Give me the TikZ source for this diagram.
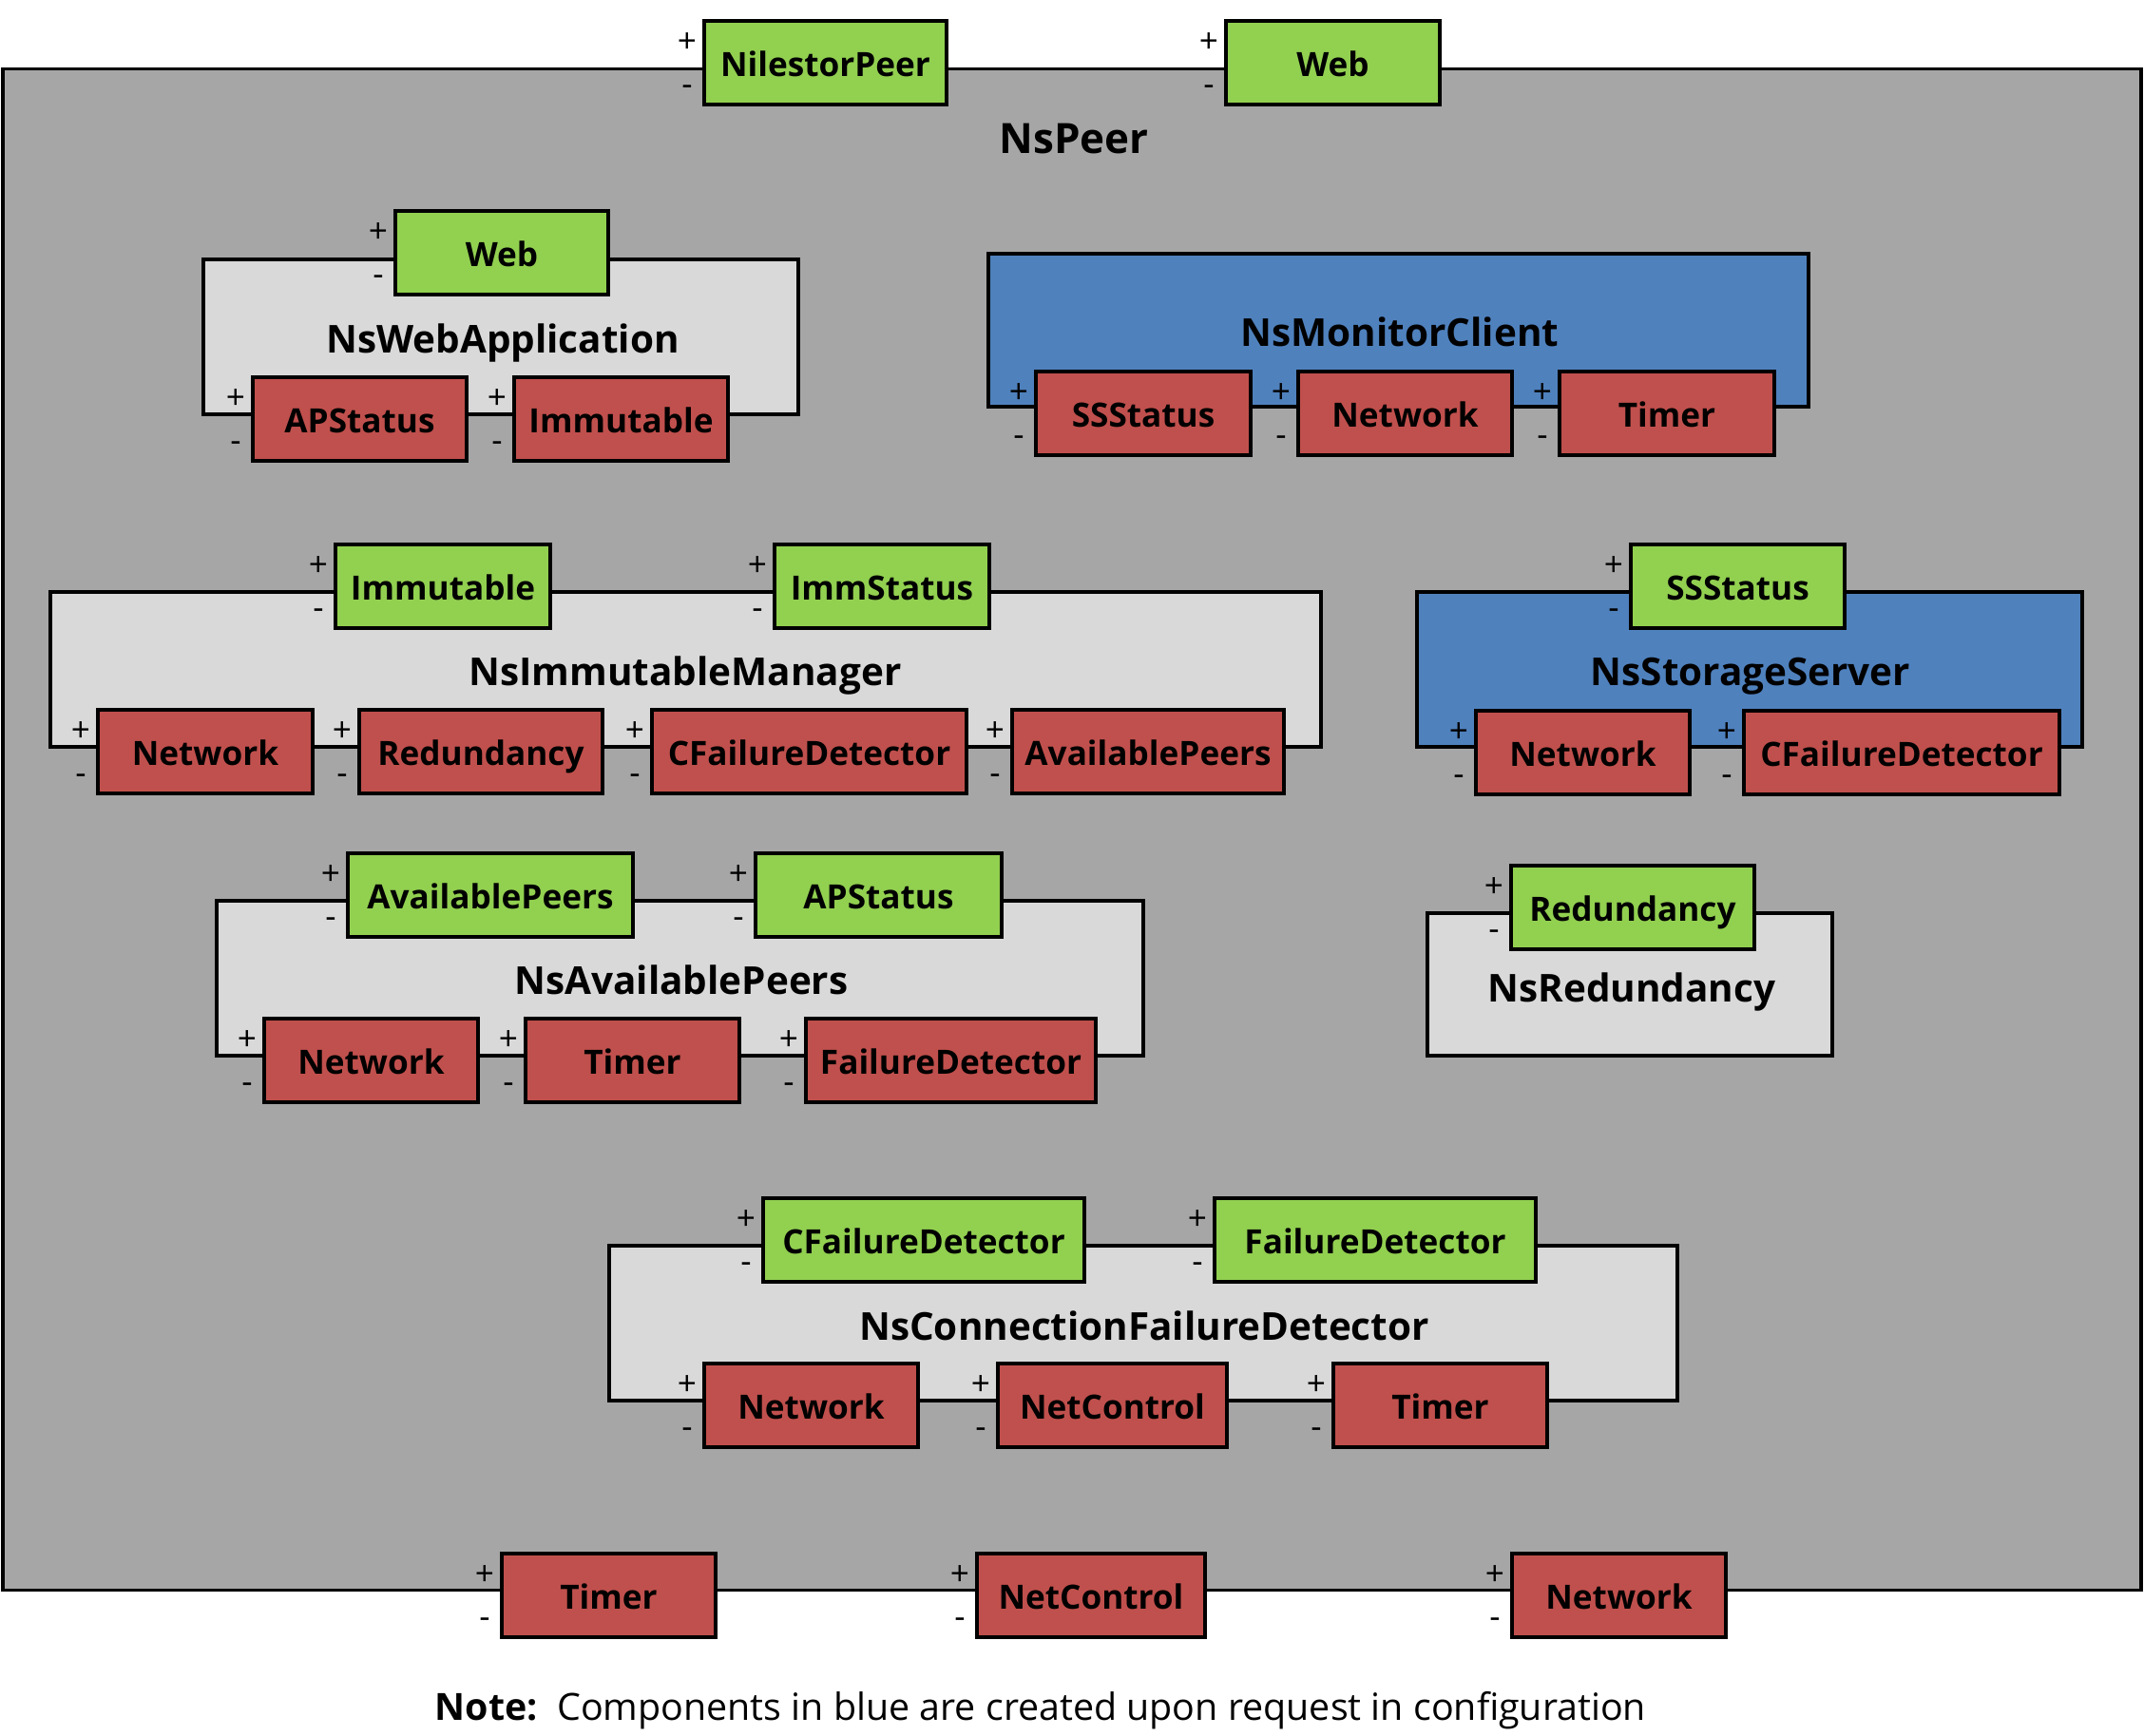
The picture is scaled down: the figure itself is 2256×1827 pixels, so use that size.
\documentclass[tikz,border=0pt]{standalone}
\usepackage{fontspec}
\setmainfont{Open Sans}
\usetikzlibrary{calc}

\definecolor{portgreen}{HTML}{92D050}
\definecolor{portred}{HTML}{C0504D}
\definecolor{compblue}{HTML}{4F81BD}
\definecolor{peergrey}{HTML}{A6A6A6}
\definecolor{compgrey}{HTML}{D9D9D9}

\tikzset{
  portbox/.style={draw=black, line width=1.1pt, inner sep=0pt, outer sep=0pt,
    minimum height=0.88cm, text height=8.3pt, text depth=0pt,
    font=\fontsize{10pt}{12pt}\selectfont\bfseries},
  provided/.style={fill=portgreen},
  required/.style={fill=portred},
  compbox/.style={draw=black, line width=1.1pt, inner sep=0pt, outer sep=0pt},
  plain/.style={fill=compgrey},
  ondemand/.style={fill=compblue},
  complabel/.style={inner sep=0pt, text height=8.2pt, text depth=0pt,
    font=\fontsize{11.5pt}{13pt}\selectfont\bfseries},
  sign/.style={inner sep=0pt, font=\fontsize{10pt}{11pt}\selectfont},
}

% port: name, kind, left x, top y, width, text
\newcommand\mkport[6]{%
  \node[portbox,#2,minimum width=#5*0.01cm] (#1) at (#3+#5/2,#4+44) {#6};
  \node[sign] (#1-plus) at ($(#1.north west)+(-18,23)$) {+};
  \node[sign] (#1-minus) at ($(#1.north west)+(-18,73)$) {-};
}
% component: name, kind, x1, y1, x2, y2
\newcommand\mkcomp[6]{%
  \node[compbox,#2,minimum width=(#5-#3)*0.01cm,minimum height=(#6-#4)*0.01cm]
    (#1) at ({(#3+#5)/2},{(#4+#6)/2}) {};
}

\begin{document}
\begin{tikzpicture}[x=0.01cm,y=-0.01cm]
\useasboundingbox (0,0) rectangle (2256,1827);

% NsPeer
\node[compbox,fill=peergrey,minimum width=22.49cm,minimum height=16.00cm]
  (peer) at (1128,873) {};
\node[complabel,text height=8.9pt,font=\fontsize{12.5pt}{14pt}\selectfont\bfseries]
  (peer-l) at (1130,146) {NsPeer};

% NsWebApplication
\mkcomp{wa}{plain}{214}{273}{840}{436}
\node[complabel] (wa-l) at (529,357) {NsWebApplication};

% NsMonitorClient
\mkcomp{mc}{ondemand}{1040}{267}{1903}{428}
\node[complabel] (mc-l) at (1473,350) {NsMonitorClient};

% NsImmutableManager
\mkcomp{im}{plain}{53}{623}{1390}{786}
\node[complabel] (im-l) at (721,707) {NsImmutableManager};

% NsStorageServer
\mkcomp{ss}{ondemand}{1491}{623}{2191}{786}
\node[complabel] (ss-l) at (1842,707) {NsStorageServer};

% NsAvailablePeers
\mkcomp{ap}{plain}{228}{948}{1203}{1111}
\node[complabel] (ap-l) at (717,1032) {NsAvailablePeers};

% NsRedundancy
\mkcomp{rd}{plain}{1502}{961}{1928}{1111}
\node[complabel] (rd-l) at (1717,1040) {NsRedundancy};

% NsConnectionFailureDetector
\mkcomp{cf}{plain}{641}{1311}{1765}{1474}
\node[complabel] (cf-l) at (1204,1396) {NsConnectionFailureDetector};

% ports of NsPeer
\mkport{peer-nil}{provided}{741}{22}{255}{NilestorPeer}
\mkport{peer-web}{provided}{1290}{22}{225}{Web}
\mkport{peer-timer}{required}{528}{1635}{225}{Timer}
\mkport{peer-netc}{required}{1028}{1635}{240}{NetControl}
\mkport{peer-net}{required}{1591}{1635}{225}{Network}

% ports of NsWebApplication
\mkport{wa-web}{provided}{416}{222}{224}{Web}
\mkport{wa-aps}{required}{266}{397}{225}{APStatus}
\mkport{wa-imm}{required}{541}{397}{225}{Immutable}

% ports of NsMonitorClient
\mkport{mc-sss}{required}{1090}{391}{226}{SSStatus}
\mkport{mc-net}{required}{1366}{391}{225}{Network}
\mkport{mc-tim}{required}{1641}{391}{226}{Timer}

% ports of NsImmutableManager
\mkport{im-imm}{provided}{353}{573}{226}{Immutable}
\mkport{im-ims}{provided}{815}{573}{226}{ImmStatus}
\mkport{im-net}{required}{103}{747}{226}{Network}
\mkport{im-red}{required}{378}{747}{256}{Redundancy}
\mkport{im-cfd}{required}{686}{747}{331}{CFailureDetector}
\mkport{im-avp}{required}{1065}{747}{286}{AvailablePeers}

% ports of NsStorageServer
\mkport{ss-sss}{provided}{1716}{573}{225}{SSStatus}
\mkport{ss-net}{required}{1553}{748}{225}{Network}
\mkport{ss-cfd}{required}{1835}{748}{332}{CFailureDetector}

% ports of NsAvailablePeers
\mkport{ap-avp}{provided}{366}{898}{300}{AvailablePeers}
\mkport{ap-aps}{provided}{795}{898}{259}{APStatus}
\mkport{ap-net}{required}{278}{1072}{225}{Network}
\mkport{ap-tim}{required}{553}{1072}{225}{Timer}
\mkport{ap-fd}{required}{848}{1072}{305}{FailureDetector}

% ports of NsRedundancy
\mkport{rd-red}{provided}{1590}{911}{256}{Redundancy}

% ports of NsConnectionFailureDetector
\mkport{cf-cfd}{provided}{803}{1261}{338}{CFailureDetector}
\mkport{cf-fd}{provided}{1278}{1261}{338}{FailureDetector}
\mkport{cf-net}{required}{741}{1435}{225}{Network}
\mkport{cf-netc}{required}{1050}{1435}{241}{NetControl}
\mkport{cf-tim}{required}{1403}{1435}{225}{Timer}

% footnote
\node[anchor=base west,inner sep=0pt,font=\fontsize{11.2pt}{13pt}\selectfont]
  (note) at (457,1810) {\textbf{Note:}\ \ Components in blue are created upon request in configuration};
\end{tikzpicture}
\end{document}
